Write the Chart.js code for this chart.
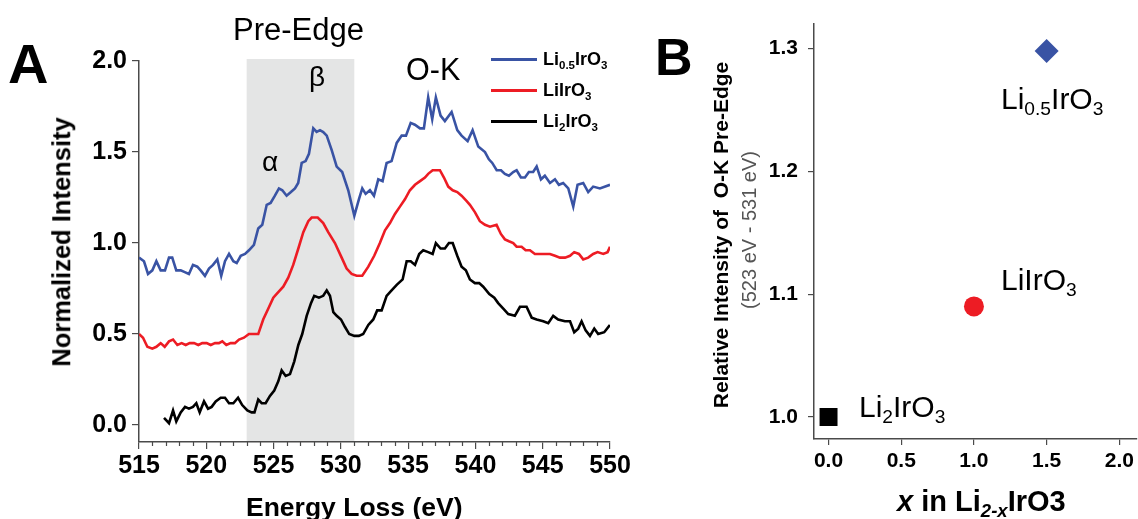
<!DOCTYPE html>
<html>
<head>
<meta charset="utf-8">
<script src="https://cdn.jsdelivr.net/npm/chart.js@4.4.0/dist/chart.umd.min.js"></script>
<style>
  html, body { margin: 0; padding: 0; background: #fff; }
  body { width: 1138px; height: 519px; position: relative; overflow: hidden;
         font-family: "Liberation Sans", Arial, sans-serif; color: #000; }
  .panel { position: absolute; top: 0; height: 519px; }
  #panelA { left: 0; width: 640px; }
  #panelB { left: 640px; width: 498px; }
  .txt { position: absolute; white-space: nowrap; line-height: 1; }
  .txt sub { font-size: 0.64em; vertical-align: baseline; position: relative; top: 0.33em; }
  .rot { transform: translate(-50%, -50%) rotate(-90deg); }
  .legend-row { position: absolute; left: 491px; height: 20px; }
  .legend-row .swatch { position: absolute; left: 0; top: 9px; width: 46px; height: 2.6px; }
  .legend-row .name { position: absolute; left: 52px; top: 1px; font-size: 18px; font-weight: bold; }
</style>
</head>
<body>
<div class="panel" id="panelA"><canvas id="spectra"></canvas></div>
<div class="panel" id="panelB"><canvas id="preEdge"></canvas></div>

<div class="txt" style="left:8px;top:36px;font-size:56px;font-weight:bold;">A</div>
<div class="txt" style="left:655px;top:31px;font-size:52px;font-weight:bold;">B</div>

<div class="txt rot" style="left:62px;top:242px;font-size:25.5px;font-weight:bold;">Normalized Intensity</div>
<div class="txt" style="left:246px;top:494px;font-size:26.5px;font-weight:bold;">Energy Loss (eV)</div>

<div class="txt" style="left:233px;top:14px;font-size:31px;">Pre-Edge</div>
<div class="txt" style="left:309px;top:63px;font-size:28px;">β</div>
<div class="txt" style="left:262px;top:148px;font-size:28px;">α</div>
<div class="txt" style="left:406px;top:54px;font-size:30.5px;">O-K</div>
<div id="legend"></div>

<div class="txt" style="left:1001px;top:84px;font-size:30px;">Li<sub>0.5</sub>IrO<sub>3</sub></div>
<div class="txt" style="left:1001px;top:265px;font-size:30px;">LiIrO<sub>3</sub></div>
<div class="txt" style="left:859px;top:392px;font-size:30px;">Li<sub>2</sub>IrO<sub>3</sub></div>

<div class="txt rot" style="left:720px;top:235px;font-size:21px;font-weight:bold;">Relative Intensity of&nbsp; O-K Pre-Edge</div>
<div class="txt rot" style="left:749px;top:230px;font-size:20px;color:#555;">(523 eV - 531 eV)</div>
<div class="txt" style="left:897px;top:487px;font-size:29px;font-weight:bold;"><i>x</i> in Li<sub><i>2-x</i></sub>IrO3</div>

<script>
// O-K edge EELS spectra, normalized intensity vs energy loss (eV)
const eBlue = [515.00,515.37,515.67,515.99,516.29,516.61,516.93,517.23,517.47,517.77,
  518.10,518.40,518.71,519.01,519.33,519.58,519.90,520.20,520.50,520.82,
  521.11,521.39,521.69,522.01,522.26,522.56,522.88,523.17,523.54,523.86,
  524.16,524.49,524.78,525.10,525.40,525.65,525.97,526.29,526.59,526.83,
  527.09,527.38,527.63,527.95,528.20,528.45,528.69,528.95,529.32,529.69,
  530.10,530.55,531.00,531.34,531.59,531.84,532.16,532.46,532.78,533.10,
  533.40,533.77,534.15,534.52,534.84,535.19,535.50,535.88,536.17,536.49,
  536.79,537.06,537.41,537.73,538.23,538.65,538.97,539.42,539.79,540.21,
  540.71,541.00,541.25,541.58,541.90,542.19,542.49,542.81,543.06,543.38,
  543.68,543.97,544.29,544.55,544.87,545.16,545.54,545.91,546.20,546.52,
  546.90,547.27,547.59,548.01,548.38,548.75,549.25,550.00];
const iBlue = [0.92,0.90,0.83,0.85,0.90,0.85,0.85,0.92,0.92,0.85,
  0.85,0.84,0.83,0.88,0.87,0.85,0.82,0.86,0.88,0.91,
  0.82,0.90,0.94,0.90,0.89,0.93,0.94,0.96,0.99,1.08,
  1.10,1.21,1.22,1.26,1.30,1.29,1.26,1.28,1.30,1.33,
  1.44,1.45,1.49,1.63,1.61,1.62,1.61,1.59,1.51,1.42,
  1.39,1.29,1.15,1.24,1.30,1.27,1.29,1.26,1.35,1.34,
  1.44,1.45,1.55,1.59,1.59,1.66,1.65,1.63,1.63,1.80,
  1.68,1.80,1.70,1.67,1.72,1.62,1.59,1.56,1.62,1.53,
  1.50,1.46,1.44,1.40,1.40,1.38,1.37,1.39,1.40,1.36,
  1.36,1.39,1.39,1.42,1.35,1.37,1.33,1.35,1.32,1.33,
  1.30,1.20,1.32,1.33,1.28,1.31,1.30,1.32];

const eRed = [515.00,515.30,515.62,515.99,516.29,516.61,516.91,517.23,517.53,517.85,
  518.17,518.47,518.77,519.09,519.41,519.70,520.03,520.33,520.65,520.94,
  521.19,521.49,521.81,522.13,522.43,522.80,523.17,523.54,523.86,524.23,
  524.61,524.98,525.35,525.72,526.09,526.46,526.84,527.21,527.58,527.83,
  528.28,528.69,529.06,529.56,530.06,530.43,530.80,531.17,531.59,532.04,
  532.48,532.90,533.28,533.65,534.02,534.39,534.76,535.13,535.51,535.88,
  536.25,536.49,536.82,537.12,537.36,537.66,537.98,538.31,538.65,538.97,
  539.35,539.59,539.96,540.33,540.71,541.08,541.57,541.89,542.19,542.49,
  542.81,543.06,543.43,543.73,544.05,544.42,544.79,545.16,545.54,545.91,
  546.28,546.66,547.03,547.34,547.69,548.01,548.38,548.75,549.08,549.50,
  549.82,550.00];
const iRed = [0.50,0.48,0.43,0.42,0.43,0.45,0.43,0.46,0.47,0.44,
  0.45,0.44,0.45,0.45,0.44,0.45,0.45,0.44,0.45,0.45,
  0.46,0.44,0.45,0.45,0.47,0.48,0.50,0.50,0.50,0.58,
  0.64,0.70,0.73,0.76,0.81,0.88,0.97,1.06,1.12,1.14,
  1.14,1.11,1.06,1.00,0.92,0.86,0.83,0.82,0.82,0.87,
  0.93,1.00,1.07,1.11,1.16,1.20,1.24,1.29,1.32,1.34,
  1.36,1.38,1.40,1.40,1.40,1.36,1.31,1.29,1.28,1.26,
  1.23,1.21,1.17,1.12,1.10,1.09,1.10,1.05,1.02,1.01,
  1.00,0.98,0.98,0.96,0.96,0.94,0.94,0.94,0.94,0.93,
  0.92,0.92,0.93,0.95,0.94,0.91,0.92,0.94,0.95,0.94,
  0.95,0.98];

const eBlack = [516.86,517.23,517.53,517.77,518.10,518.42,518.71,519.01,519.26,519.51,
  519.83,520.13,520.40,520.70,521.07,521.39,521.69,522.01,522.36,522.67,
  523.05,523.37,523.58,523.86,524.12,524.41,524.73,525.05,525.35,525.60,
  525.90,526.22,526.54,526.84,527.13,527.46,527.78,528.02,528.37,528.69,
  528.95,529.19,529.44,529.69,530.01,530.30,530.62,531.00,531.34,531.66,
  532.04,532.41,532.70,533.03,533.40,533.77,534.15,534.59,534.89,535.19,
  535.51,535.82,536.12,536.49,536.82,537.06,537.41,537.73,538.03,538.31,
  538.65,538.97,539.29,539.59,539.96,540.28,540.58,541.03,541.40,541.69,
  542.07,542.44,542.93,543.31,543.80,544.18,544.55,545.04,545.41,545.78,
  546.15,546.65,547.03,547.34,547.64,547.89,548.19,548.51,548.83,549.12,
  549.57,549.99];
const iBlack = [0.04,0.01,0.08,0.02,0.07,0.10,0.09,0.10,0.12,0.07,
  0.13,0.09,0.10,0.13,0.15,0.15,0.12,0.12,0.15,0.11,
  0.08,0.07,0.07,0.14,0.12,0.12,0.16,0.19,0.24,0.30,
  0.27,0.28,0.35,0.44,0.50,0.60,0.67,0.71,0.70,0.71,
  0.74,0.71,0.62,0.60,0.58,0.54,0.50,0.49,0.49,0.50,
  0.55,0.58,0.63,0.63,0.71,0.74,0.77,0.80,0.90,0.90,
  0.88,0.94,0.96,0.95,0.94,1.00,0.97,0.97,1.00,1.00,
  0.93,0.87,0.85,0.80,0.78,0.78,0.76,0.72,0.70,0.67,
  0.64,0.61,0.60,0.65,0.65,0.59,0.58,0.57,0.56,0.60,
  0.58,0.57,0.57,0.51,0.53,0.57,0.52,0.49,0.53,0.50,
  0.51,0.55];

const seriesNames = ['Li<sub>0.5</sub>IrO<sub>3</sub>', 'LiIrO<sub>3</sub>', 'Li<sub>2</sub>IrO<sub>3</sub>'];
const seriesColors = ['#3953a4', '#ed1c24', '#000000'];

// pre-edge integration window (eV)
const bandFrom = 523;
const bandTo = 531;

// relative pre-edge intensity vs x in Li(2-x)IrO3
const xLi = [0, 1, 1.5];
const relIntensity = [1.0, 1.09, 1.298];
const pointColors = ['#000000', '#ed1c24', '#3953a4'];
const pointShapes = ['rect', 'circle', 'rectRot'];
const pointSizes = [12.7, 10, 12];

const axisColor = '#4a4a4a';
Chart.defaults.font.family = "'Liberation Sans', Arial, sans-serif";
Chart.defaults.color = '#000';

// legend for the spectra, built from the series arrays
const legend = document.getElementById('legend');
const legendRows = [49, 80, 111];
seriesNames.forEach((name, i) => {
    const row = document.createElement('div');
    row.className = 'legend-row';
    row.style.top = legendRows[i] + 'px';
    row.innerHTML = `<div class="swatch" style="background:${seriesColors[i]}"></div><div class="name txt">${name}</div>`;
    legend.appendChild(row);
});

const toPoints = (xs, ys) => xs.map((x, i) => ({ x: x, y: ys[i] }));

const bandPlugin = {
    id: 'band',
    beforeDraw(chart) {
        const { ctx, chartArea, scales: { x } } = chart;
        const x0 = x.getPixelForValue(bandFrom);
        const x1 = x.getPixelForValue(bandTo);
        ctx.save();
        ctx.fillStyle = '#e4e5e5';
        ctx.fillRect(x0, chartArea.top - 2, x1 - x0, chartArea.bottom - chartArea.top + 2);
        ctx.restore();
    }
};

// 1 eV minor ticks under the energy axis
const minorTicks = {
    id: 'minorTicks',
    afterDraw(chart) {
        const { ctx, chartArea, scales: { x } } = chart;
        ctx.save();
        ctx.strokeStyle = axisColor;
        ctx.lineWidth = 1.2;
        for (let e = Math.ceil(x.min); e <= x.max; e++) {
            if (e % 5 === 0) continue;
            const px = Math.round(x.getPixelForValue(e)) + 0.5;
            ctx.beginPath();
            ctx.moveTo(px, chartArea.bottom);
            ctx.lineTo(px, chartArea.bottom + 4);
            ctx.stroke();
        }
        ctx.restore();
    }
};

const axisGrid = (len) => ({
    drawOnChartArea: false,
    drawTicks: true,
    tickLength: len,
    color: axisColor,
    lineWidth: 1.2
});
const axisBorder = { display: true, color: axisColor, width: 1.5 };

new Chart(document.getElementById('spectra'), {
    type: 'line',
    data: {
        datasets: [
            { data: toPoints(eBlue, iBlue), borderColor: seriesColors[0] },
            { data: toPoints(eRed, iRed), borderColor: seriesColors[1] },
            { data: toPoints(eBlack, iBlack), borderColor: seriesColors[2] }
        ]
    },
    options: {
        responsive: true,
        maintainAspectRatio: false,
        animation: false,
        elements: {
            line: { borderWidth: 2.6, tension: 0, fill: false },
            point: { radius: 0, hoverRadius: 0 }
        },
        layout: { autoPadding: false, padding: { left: 0, top: 61, right: 30, bottom: 0 } },
        scales: {
            x: {
                type: 'linear',
                min: 515,
                max: 550,
                grid: axisGrid(7),
                border: axisBorder,
                ticks: { stepSize: 5, padding: 2, font: { size: 25, weight: 'bold' } },
                afterFit: s => { s.height = 77; }
            },
            y: {
                min: -0.093,
                max: 2.0,
                grid: axisGrid(7),
                border: axisBorder,
                ticks: { stepSize: 0.5, includeBounds: false, padding: 5,
                         font: { size: 25, weight: 'bold' }, callback: v => v.toFixed(1) },
                afterFit: s => { s.width = 139; }
            }
        },
        plugins: { legend: { display: false }, tooltip: { enabled: false } }
    },
    plugins: [bandPlugin, minorTicks]
});

new Chart(document.getElementById('preEdge'), {
    type: 'scatter',
    data: {
        datasets: [{
            data: toPoints(xLi, relIntensity),
            backgroundColor: pointColors,
            pointStyle: pointShapes,
            pointRadius: pointSizes,
            pointHoverRadius: pointSizes,
            borderWidth: 0
        }]
    },
    options: {
        responsive: true,
        maintainAspectRatio: false,
        animation: false,
        layout: { autoPadding: false, padding: { left: 0, top: 24, right: 1, bottom: 0 } },
        scales: {
            x: {
                type: 'linear',
                min: -0.1,
                max: 2.12,
                grid: axisGrid(6),
                border: axisBorder,
                ticks: { stepSize: 0.5, includeBounds: false, padding: 4,
                         font: { size: 21, weight: 'bold' }, callback: v => v.toFixed(1) },
                afterFit: s => { s.height = 80; }
            },
            y: {
                min: 0.982,
                max: 1.32,
                grid: axisGrid(6),
                border: axisBorder,
                ticks: { stepSize: 0.1, includeBounds: false, padding: 10,
                         font: { size: 21, weight: 'bold' }, callback: v => v.toFixed(1) },
                afterFit: s => { s.width = 174; }
            }
        },
        plugins: { legend: { display: false }, tooltip: { enabled: false } }
    }
});
</script>
</body>
</html>
